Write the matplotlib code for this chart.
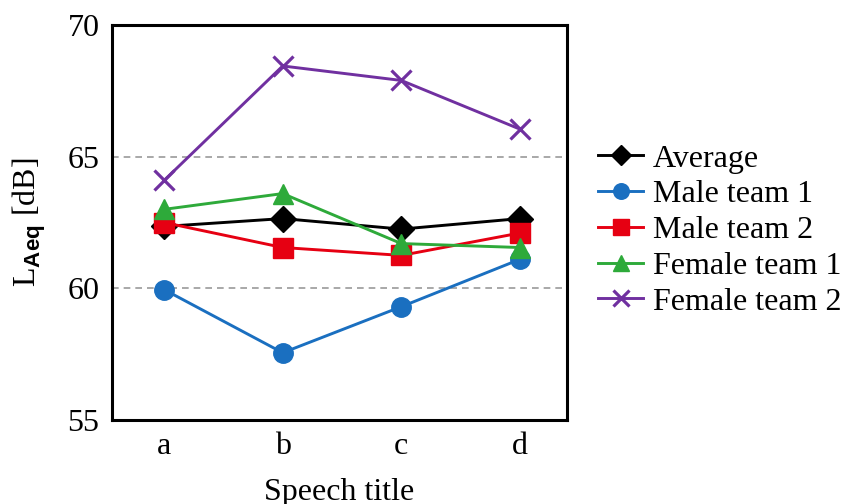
import numpy as np
import matplotlib
matplotlib.use('Agg')
import matplotlib.pyplot as plt

plt.rcParams['font.family'] = ['Liberation Serif', 'DejaVu Serif']
plt.rcParams['mathtext.fontset'] = 'custom'
plt.rcParams['mathtext.rm'] = 'Liberation Serif'
plt.rcParams['mathtext.bf'] = 'Liberation Sans:bold'

# data
titles = ['a', 'b', 'c', 'd']
average = [62.35, 62.65, 62.25, 62.65]
male1 = [59.95, 57.55, 59.3, 61.1]
male2 = [62.5, 61.55, 61.25, 62.1]
female1 = [63.0, 63.6, 61.7, 61.55]
female2 = [64.1, 68.45, 67.9, 66.05]

series = [
    ('Average', average, '#000000', 'D', 13),
    ('Male team 1', male1, '#1a6fc0', 'o', 14),
    ('Male team 2', male2, '#e60012', 's', 14),
    ('Female team 1', female1, '#2eaa3a', '^', 15),
    ('Female team 2', female2, '#7030a0', 'x', 15),
]

fig = plt.figure(figsize=(8.48, 5.04), dpi=100)
ax = fig.add_axes([0.132, 0.167, 0.537, 0.783])

x = np.arange(len(titles))
for name, vals, col, mk, ms in series:
    ax.plot(x, vals, color=col, marker=mk, markersize=ms, linewidth=2.1,
            markeredgewidth=2.3 if mk == 'x' else 1, label=name)

# dashed gridlines at 60 and 65
for yv in (60, 65):
    ax.axhline(yv, color='#999999', linestyle=(0, (4, 3)), linewidth=1.2, zorder=0)

ax.set_ylim(55, 70)
ax.set_yticks([55, 60, 65, 70])
ax.set_xlim(-0.44, 3.4)
ax.set_xticks(x)
ax.set_xticklabels(titles)
ax.tick_params(axis='both', length=0, labelsize=23, pad=9)
for sp in ax.spines.values():
    sp.set_linewidth(2.2)

ax.set_ylabel(r'L$_{\mathbf{Aeq}}$ [dB]', fontsize=23, labelpad=14)
ax.set_xlabel('Speech title', fontsize=23, labelpad=12)

ax.legend(loc='center left', bbox_to_anchor=(1.04, 0.48), frameon=False,
          fontsize=23, handlelength=1.4, labelspacing=0.2, handletextpad=0.3,
          borderaxespad=0, markerscale=0.8)

fig.savefig('out.png', dpi=100)
